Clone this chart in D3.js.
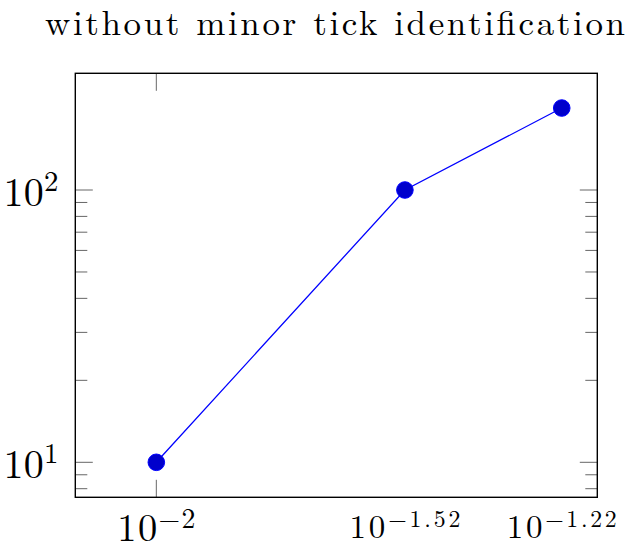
<!DOCTYPE html>
<html>
<head>
<meta charset="utf-8">
<script src="https://cdn.jsdelivr.net/npm/d3@7"></script>
<style>
  html, body { margin: 0; padding: 0; background: #fff; }
  svg { display: block; }
  text { font-family: "Latin Modern Roman", "CMU Serif", "Liberation Serif", serif; fill: #000; }
</style>
</head>
<body>
<svg id="chart" width="636" height="552"></svg>
<script>
// ---- data ----
const titleText = "without minor tick identification";
const xValues = [0.01, 0.03, 0.06];
const yValues = [10, 100, 200];
const xTickValues = [0.01, 0.03, 0.06];
const xTickExponents = ["\u22122", "\u22121.52", "\u22121.22"];
const xTickMarked = [true, false, false];
const yMajorTicks = [10, 100];
const yMajorExponents = ["1", "2"];
const yMinorTicks = [8, 9, 20, 30, 40, 50, 60, 70, 80, 90];

(function () {
// ---- layout ----
const pLeft = 75.3, pRight = 597.3, pTop = 73.3, pBottom = 497.3;
const majorLen = 17.5, minorLen = 12;

const svg = d3.select("#chart");

const x = d3.scaleLog()
  .domain([Math.pow(10, -2.1555), Math.pow(10, -1.1536)])
  .range([pLeft, pRight]);
const y = d3.scaleLog()
  .domain([Math.pow(10, 0.8715), Math.pow(10, 2.4286)])
  .range([pBottom, pTop]);

// title
svg.append("text")
  .attr("x", 335).attr("y", 35)
  .attr("text-anchor", "middle")
  .attr("font-size", 35)
  .attr("textLength", 580)
  .attr("lengthAdjust", "spacing")
  .text(titleText);

const g = svg.append("g");

// y ticks (left & right)
const tickColor = "#555";
function hTick(yy, len) {
  g.append("line").attr("x1", pLeft).attr("x2", pLeft + len).attr("y1", yy).attr("y2", yy)
    .attr("stroke", tickColor).attr("stroke-width", 0.9);
  g.append("line").attr("x1", pRight).attr("x2", pRight - len).attr("y1", yy).attr("y2", yy)
    .attr("stroke", tickColor).attr("stroke-width", 0.9);
}
yMajorTicks.forEach(v => hTick(y(v), majorLen));
yMinorTicks.forEach(v => hTick(y(v), minorLen));

// x ticks (top & bottom), only marked ones
xTickValues.forEach((v, i) => {
  if (!xTickMarked[i]) return;
  const xx = x(v);
  g.append("line").attr("x1", xx).attr("x2", xx).attr("y1", pBottom).attr("y2", pBottom - majorLen)
    .attr("stroke", tickColor).attr("stroke-width", 0.9);
  g.append("line").attr("x1", xx).attr("x2", xx).attr("y1", pTop).attr("y2", pTop + majorLen)
    .attr("stroke", tickColor).attr("stroke-width", 0.9);
});

// frame
g.append("rect")
  .attr("x", pLeft).attr("y", pTop)
  .attr("width", pRight - pLeft).attr("height", pBottom - pTop)
  .attr("fill", "none").attr("stroke", "#000").attr("stroke-width", 1.4);

// power label helper: fits to target width, placed by center or right edge
function powerLabel(exp, fs, base, raise, targetW, anchorX, mode) {
  const t = svg.append("text")
    .attr("x", 0).attr("y", base)
    .attr("text-anchor", "start")
    .attr("font-size", fs);
  t.append("tspan").text("10");
  t.append("tspan").attr("font-size", fs * 0.72).attr("dy", -raise).text(exp);
  const w = t.node().getComputedTextLength();
  const n = 2 + exp.length;
  const ls = Math.max(0, (targetW - w) / (n - 1));
  t.attr("letter-spacing", ls);
  const x0 = mode === "middle" ? anchorX - targetW / 2 : anchorX - targetW;
  t.attr("x", x0);
  return t;
}

// x tick labels
const xLabelWidths = [78, 111, 110];
xTickValues.forEach((v, i) => {
  const big = i === 0;
  powerLabel(xTickExponents[i], big ? 38.5 : 33, big ? 541 : 538, big ? 13.5 : 11.5,
             xLabelWidths[i], x(v), "middle");
});

// y tick labels
yMajorTicks.forEach((v, i) => {
  powerLabel(yMajorExponents[i], 40, y(v) + 15.5, 15, 55, 58.5, "end");
});

// line and markers
const pts = xValues.map((xv, i) => [xv, yValues[i]]);
svg.append("path")
  .datum(pts)
  .attr("fill", "none")
  .attr("stroke", "#0000ff")
  .attr("stroke-width", 1.3)
  .attr("d", d3.line().x(d => x(d[0])).y(d => y(d[1])));

svg.selectAll("circle.mark")
  .data(pts)
  .enter().append("circle")
  .attr("class", "mark")
  .attr("cx", d => x(d[0])).attr("cy", d => y(d[1]))
  .attr("r", 8.3)
  .attr("fill", "#0000cc")
  .attr("stroke", "#0000ff")
  .attr("stroke-width", 1);
})();
</script>
</body>
</html>
